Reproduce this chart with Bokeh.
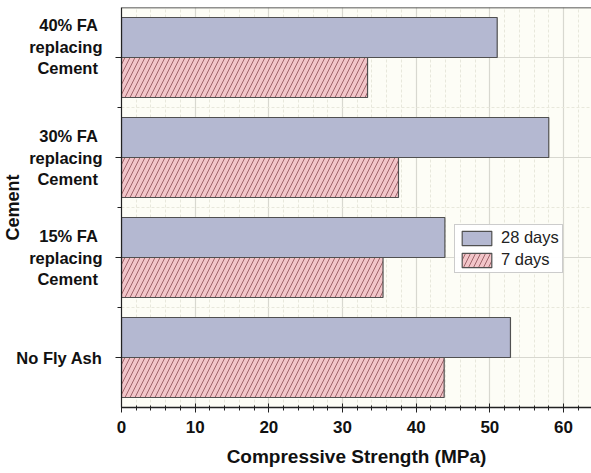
from bokeh.plotting import figure
from bokeh.models import FixedTicker, Range1d, Legend, LegendItem, Span
from bokeh.embed import file_html
from bokeh.resources import INLINE

NB = "\u00a0"
categories = ["No Fly Ash", "15% FA" + NB + "\nreplacing\nCement" + NB,
              "30% FA" + NB + "\nreplacing\nCement" + NB,
              "40% FA" + NB + "\nreplacing\nCement" + NB + "\n" + NB]
cat_pos = [1, 2, 3, 4]
days28 = [52.8, 43.9, 58.0, 51.0]
days7 = [43.8, 35.5, 37.6, 33.4]
x_ticks = [0, 10, 20, 30, 40, 50, 60]
x_minor = list(range(0, 64, 2))
y_minor = [1.5, 2.5, 3.5]

FONT = "Liberation Sans"

p = figure(width=591, height=473, output_backend="svg", toolbar_location=None,
           x_range=Range1d(0, 63.8), y_range=Range1d(0.5, 4.5),
           min_border_left=119, min_border_right=0, min_border_top=7, min_border_bottom=66)
p.background_fill_color = "#fdfdf6"
p.border_fill_color = "white"
p.outline_line_color = None

# bars
r28 = p.hbar(y=[c + 0.2 for c in cat_pos], right=days28, left=0, height=0.4,
             fill_color="#b4b8d1", line_color="#505050", line_width=1.2)
r7 = p.hbar(y=[c - 0.2 for c in cat_pos], right=days7, left=0, height=0.4,
            fill_color="#f2c5c9", line_color="#505050", line_width=1.2,
            hatch_pattern="/", hatch_color="#8a4a50", hatch_scale=10, hatch_weight=0.8)

# grids
p.xgrid.ticker = FixedTicker(ticks=x_ticks, minor_ticks=x_minor)
p.xgrid.grid_line_color = "#d8d8d0"
p.xgrid.grid_line_width = 1.2
p.xgrid.minor_grid_line_color = "#e8e8dc"
p.xgrid.minor_grid_line_dash = "3 2"
p.ygrid.ticker = FixedTicker(ticks=cat_pos, minor_ticks=y_minor)
p.ygrid.grid_line_color = "#d8d8d0"
p.ygrid.grid_line_width = 1.2
p.ygrid.minor_grid_line_color = "#e8e8dc"
p.ygrid.minor_grid_line_dash = "3 2"

# x axis
xa = p.xaxis[0]
xa.ticker = FixedTicker(ticks=x_ticks, minor_ticks=x_minor)
xa.axis_label = "Compressive Strength (MPa)"
xa.axis_label_text_font = FONT
xa.axis_label_text_font_style = "bold"
xa.axis_label_text_font_size = "19px"
xa.axis_label_text_color = "#111111"
xa.axis_label_standoff = 10
xa.major_label_text_font = FONT
xa.major_label_text_font_style = "bold"
xa.major_label_text_font_size = "17px"
xa.major_label_text_color = "#111111"
xa.major_label_standoff = 8
xa.axis_line_color = "#222222"
xa.axis_line_width = 1.5
xa.major_tick_in = 4
xa.major_tick_out = 5
xa.minor_tick_in = 2
xa.minor_tick_out = 3
xa.major_tick_line_color = "#222222"
xa.minor_tick_line_color = "#222222"

# y axis
ya = p.yaxis[0]
ya.ticker = FixedTicker(ticks=cat_pos, minor_ticks=y_minor)
ya.major_label_overrides = {c: lab for c, lab in zip(cat_pos, categories)}
ya.axis_label = "Cement"
ya.axis_label_text_font = FONT
ya.axis_label_text_font_style = "bold"
ya.axis_label_text_font_size = "18px"
ya.axis_label_text_color = "#111111"
ya.axis_label_standoff = -10
ya.major_label_text_font = FONT
ya.major_label_text_font_style = "bold"
ya.major_label_text_font_size = "16.5px"
ya.major_label_text_color = "#111111"
ya.major_label_standoff = 13
ya.axis_line_color = "#222222"
ya.axis_line_width = 1.2
ya.major_tick_in = 0
ya.major_tick_out = 6
ya.minor_tick_in = 0
ya.minor_tick_out = 4
ya.major_tick_line_color = "#222222"
ya.minor_tick_line_color = "#222222"

# top border line
p.add_layout(Span(location=4.5, dimension="width", line_color="#222222", line_width=1.5))

legend = Legend(items=[LegendItem(label="28 days", renderers=[r28]),
                       LegendItem(label="7 days", renderers=[r7])],
                location=(333, 134), label_text_font=FONT, label_text_font_size="16.5px",
                label_text_color="#222222", glyph_width=37, glyph_height=18, label_height=18,
                border_line_color="#999999", background_fill_color="white",
                padding=3, spacing=3, margin=0, label_standoff=6)
p.add_layout(legend, "center")

open("out.html", "w").write(file_html(p, INLINE))
